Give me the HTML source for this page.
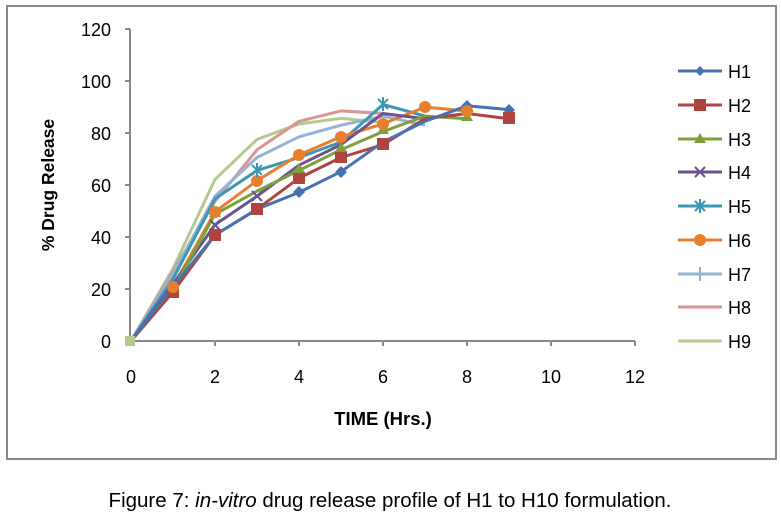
<!DOCTYPE html>
<html><head><meta charset="utf-8"><style>
body{margin:0;background:#fff;}
svg{display:block;font-family:"Liberation Sans",sans-serif;}
</style></head><body>
<svg width="781" height="518" viewBox="0 0 781 518" xmlns="http://www.w3.org/2000/svg">
<rect x="0" y="0" width="781" height="518" fill="#fff"/>
<rect x="7" y="6" width="769" height="453" fill="#fff" stroke="#888" stroke-width="2"/>
<g stroke="#888" stroke-width="2" fill="none">
<line x1="130" y1="29" x2="130" y2="341"/>
<line x1="125" y1="341" x2="635" y2="341"/>
<line x1="125" y1="29" x2="130" y2="29"/><line x1="125" y1="81" x2="130" y2="81"/><line x1="125" y1="133" x2="130" y2="133"/><line x1="125" y1="185" x2="130" y2="185"/><line x1="125" y1="237" x2="130" y2="237"/><line x1="125" y1="289" x2="130" y2="289"/>
<line x1="215" y1="341" x2="215" y2="346"/><line x1="299" y1="341" x2="299" y2="346"/><line x1="383" y1="341" x2="383" y2="346"/><line x1="467" y1="341" x2="467" y2="346"/><line x1="551" y1="341" x2="551" y2="346"/><line x1="635" y1="341" x2="635" y2="346"/>
</g>
<g font-size="18" fill="#000" text-anchor="end">
<text x="111" y="36">120</text><text x="111" y="88">100</text><text x="111" y="140">80</text><text x="111" y="192">60</text><text x="111" y="244">40</text><text x="111" y="296">20</text><text x="111" y="348">0</text>
</g>
<g font-size="18" fill="#000" text-anchor="middle">
<text x="131" y="383">0</text><text x="215" y="383">2</text><text x="299" y="383">4</text><text x="383" y="383">6</text><text x="467" y="383">8</text><text x="551" y="383">10</text><text x="635" y="383">12</text>
</g>
<text x="383" y="425" font-size="18.5" font-weight="bold" text-anchor="middle">TIME (Hrs.)</text>
<text transform="translate(54,185) rotate(-90)" font-size="17.5" font-weight="bold" text-anchor="middle">% Drug Release</text>
<text x="390" y="507" font-size="20.5" text-anchor="middle">Figure 7: <tspan font-style="italic">in-vitro</tspan> drug release profile of H1 to H10 formulation.</text>
<g fill="none" stroke-width="3" stroke-linejoin="round">
<polyline stroke="#b3c98f" points="131,341 173,268.6 215,179.4 257,139.4 299,124 341,118.3 383,122.6"/>
<polyline stroke="#d99694" points="131,341 173,271.2 215,201.4 257,149.8 299,121.3 341,110.9 383,113.5"/>
<polyline stroke="#95b3d7" points="131,341 173,273.8 215,196.2 257,157.5 299,136.8 341,125.2 383,116.1 425,125.2"/>
<polyline stroke="#3e97b2" points="131,341 173,279 215,198.8 257,170.4 299,157.5 341,142 383,104.5 425,116.1"/>
<polyline stroke="#e87f2e" points="131,341 173,286.7 215,211.8 257,180.7 299,154.9 341,136.8 383,123.9 425,107.1 467,111"/>
<polyline stroke="#6a5391" points="131,341 173,284.1 215,224.7 257,196.2 299,165.2 341,144.6 383,113.5 425,118.7"/>
<polyline stroke="#7ea03c" points="131,341 173,289.3 215,214.3 257,191.1 299,170.4 341,149.7 383,131.6 425,116.1 467,118.7"/>
<polyline stroke="#b04540" points="131,341 173,291.9 215,235 257,209.2 299,178.1 341,157.5 383,144.6 425,118.7 467,113.5 509,118.7"/>
<polyline stroke="#4374b0" points="131,341 173,286.7 215,235 257,209.2 299,192.4 341,171.7 383,142 425,121.3 467,105.8 509,109.6"/>
</g>
<g fill="#4374b0"><path d="M467,100 l6,6 -6,6 -6,-6z M509,104 l6,6 -6,6 -6,-6z M341,166 l6,6 -6,6 -6,-6z M299,186 l6,6 -6,6 -6,-6z"/></g>
<g fill="#b04540"><rect x="167" y="286" width="12" height="12"/><rect x="209" y="229" width="12" height="12"/><rect x="251" y="203" width="12" height="12"/><rect x="293" y="172" width="12" height="12"/><rect x="335" y="151" width="12" height="12"/><rect x="377" y="138" width="12" height="12"/><rect x="503" y="112" width="12" height="12"/></g>
<g fill="#7ea03c"><path d="M299,163 l6,10 h-12z M341,142 l6,10 h-12z M383,124 l6,10 h-12z M467,111 l6,10 h-12z M215,207 l6,10 h-12z"/></g>
<g fill="#e87f2e"><circle cx="173" cy="287" r="6"/><circle cx="215" cy="212" r="6"/><circle cx="257" cy="181" r="6"/><circle cx="299" cy="155" r="6"/><circle cx="341" cy="137" r="6"/><circle cx="383" cy="124" r="6"/><circle cx="425" cy="107" r="6"/><circle cx="467" cy="111" r="6"/></g>
<g stroke="#3e97b2" stroke-width="2"><path d="M252,165 l10,10 M262,165 l-10,10 M378,99 l10,10 M388,99 l-10,10 M257,163 v14 M383,97 v14"/></g>
<g stroke="#6a5391" stroke-width="2"><path d="M210,220 l10,10 M220,220 l-10,10 M252,191 l10,10 M262,191 l-10,10"/></g>
<rect x="125" y="336" width="10" height="10" fill="#b3c98f"/>
<g stroke-width="3">
<line x1="678" y1="71" x2="722" y2="71" stroke="#4374b0"/><line x1="678" y1="105" x2="722" y2="105" stroke="#b04540"/><line x1="678" y1="139" x2="722" y2="139" stroke="#7ea03c"/><line x1="678" y1="172" x2="722" y2="172" stroke="#6a5391"/><line x1="678" y1="206" x2="722" y2="206" stroke="#3e97b2"/><line x1="678" y1="240" x2="722" y2="240" stroke="#e87f2e"/><line x1="678" y1="274" x2="722" y2="274" stroke="#95b3d7"/><line x1="678" y1="307" x2="722" y2="307" stroke="#d99694"/><line x1="678" y1="341" x2="722" y2="341" stroke="#b3c98f"/>
</g>
<path d="M700,66 l5,5 -5,5 -5,-5z" fill="#4374b0"/><rect x="694" y="99" width="12" height="12" fill="#b04540"/><path d="M700,133 l6,10 h-12z" fill="#7ea03c"/>
<path d="M695,167 l10,10 M705,167 l-10,10" stroke="#6a5391" stroke-width="2"/><path d="M695,201 l10,10 M705,201 l-10,10 M700,199 v14" stroke="#3e97b2" stroke-width="2"/>
<circle cx="700" cy="240" r="6" fill="#e87f2e"/><path d="M700,267 v14" stroke="#95b3d7" stroke-width="2"/>
<g font-size="18" fill="#000">
<text x="728" y="78">H1</text><text x="728" y="112">H2</text><text x="728" y="146">H3</text><text x="728" y="179">H4</text><text x="728" y="213">H5</text><text x="728" y="247">H6</text><text x="728" y="281">H7</text><text x="728" y="314">H8</text><text x="728" y="348">H9</text>
</g>
</svg>
</body></html>
